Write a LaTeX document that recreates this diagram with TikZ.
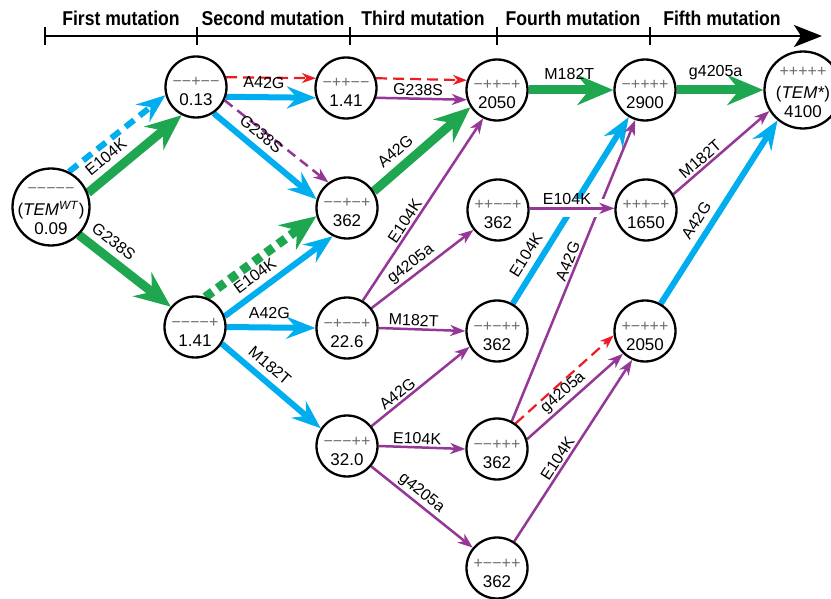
\documentclass[tikz,border=0pt]{standalone}
\usepackage{fontspec}
\setmainfont{Liberation Sans}
\usetikzlibrary{arrows.meta}
\definecolor{cgreen}{RGB}{30,166,80}
\definecolor{ccyan}{RGB}{0,174,239}
\definecolor{cpurple}{RGB}{148,55,150}
\definecolor{cred}{RGB}{237,28,36}
\definecolor{csign}{RGB}{110,110,110}
\pgfdeclarelayer{bg}
\pgfsetlayers{bg,main}
\newcommand\sgn[1]{\fontsize{16}{16}\selectfont\color{csign}#1}
\newcommand\nt[2]{\makebox[0pt]{\raisebox{0pt}[0pt][0pt]{\sgn{#1}}}\makebox[0pt]{\raisebox{-19pt}[0pt][0pt]{\fontsize{17}{17}\selectfont #2}}}
\newcommand\ntt[3]{\makebox[0pt]{\raisebox{13pt}[0pt][0pt]{\sgn{#1}}}\makebox[0pt]{\raisebox{-9pt}[0pt][0pt]{\fontsize{17}{17}\selectfont #2}}\makebox[0pt]{\raisebox{-28pt}[0pt][0pt]{\fontsize{17}{17}\selectfont #3}}}
\tikzset{
  st/.style={circle, draw, line width=2.3pt, minimum size=61pt, inner sep=0pt, fill=white},
  big/.style={st, minimum size=77pt},
  gr/.style={draw=cgreen, line width=9pt, -{Stealth[length=36pt,width=30pt,inset=12pt]}},
  grd/.style={gr, dash pattern=on 9pt off 6pt},
  cy/.style={draw=ccyan, line width=6pt, -{Stealth[length=29pt,width=22pt,inset=10pt]}},
  cyd/.style={cy, dash pattern=on 11pt off 7pt},
  pu/.style={draw=cpurple, line width=2.5pt, -{Stealth[length=15pt,width=11pt,inset=4.5pt]}},
  pud/.style={pu, dash pattern=on 10pt off 6pt},
  rd/.style={draw=cred, line width=2.2pt, dash pattern=on 11pt off 6pt, -{Stealth[length=14pt,width=10pt,inset=4.5pt]}},
  lab/.style={font=\fontsize{16}{16}\selectfont, sloped, above=1pt, inner sep=1pt},
  labt/.style={lab, above=4pt},
  hdr/.style={font=\fontsize{20}{20}\selectfont\bfseries, inner sep=0pt},
  tick/.style={line width=2.2pt},
}
\begin{document}
\begin{tikzpicture}[x=1pt,y=-1pt]
\useasboundingbox (0,0) rectangle (831,599);
% axis
\coordinate (ax0) at (45,36);
\coordinate (ax1) at (822,36);
\draw[line width=2.2pt, -{Stealth[length=28pt,width=22pt,inset=7pt]}] (ax0) -- (ax1);
\foreach \x/\n in {45/t1,197/t2,350/t3,497/t4,650/t5}{
  \coordinate (\n a) at (\x,27); \coordinate (\n b) at (\x,45);
  \draw[tick] (\n a) -- (\n b);}
\node[hdr] (h1) at (121,18) {\scalebox{0.88}[1]{First mutation}};
\node[hdr] (h2) at (273,18) {\scalebox{0.88}[1]{Second mutation}};
\node[hdr] (h3) at (423,18) {\scalebox{0.88}[1]{Third mutation}};
\node[hdr] (h4) at (573,18) {\scalebox{0.88}[1]{Fourth mutation}};
\node[hdr] (h5) at (722,18) {\scalebox{0.88}[1]{Fifth mutation}};
% nodes
\node[big] (WT) at (51,207) {\ntt{−−−−−}{(\textit{TEM}\textsuperscript{\textit{WT}})}{0.09}};
\node[st] (A) at (196,87) {\nt{−−+−−}{0.13}};
\node[st] (B) at (195,327) {\nt{−−−−+}{1.41}};
\node[st] (C) at (346,88) {\nt{−++−−}{1.41}};
\node[st] (D) at (347,208) {\nt{−−+−+}{362}};
\node[st] (E) at (347,328) {\nt{−+−−+}{22.6}};
\node[st] (F) at (347,446) {\nt{−−−++}{32.0}};
\node[st] (G) at (497,90) {\nt{−++−+}{2050}};
\node[st] (H) at (498,210) {\nt{++−−+}{362}};
\node[st] (I) at (497,331) {\nt{−+−++}{362}};
\node[st] (J) at (497,449) {\nt{−−+++}{362}};
\node[st] (K) at (497,568) {\nt{+−−++}{362}};
\node[st] (L) at (645,90) {\nt{−++++}{2900}};
\node[st] (M) at (646,210) {\nt{+++−+}{1650}};
\node[st] (N) at (645,331) {\nt{+−+++}{2050}};
\node[big] (T) at (803,90) {\ntt{+++++}{(\textit{TEM*})}{4100}};
% edges
\begin{pgfonlayer}{bg}
\draw[cyd] (WT.63) -- (A.195);
\draw[gr] (WT.21) -- (A.243) node[labt, pos=0.3]{E104K};
\draw[gr] (WT.-45) -- (B.140) node[labt, pos=0.27]{G238S};
\draw[rd] (A.18) -- (C.162);
\draw[cy] (A.-18) -- (C.198) node[labt, pos=0.42]{A42G};
\draw[pud] (A.-25) -- (D.126);
\draw[cy] (A.-56) -- (D.164) node[labt, pos=0.37]{G238S};
\draw[grd] (B.71) -- (D.195);
\draw[cy] (B.20) -- (D.243) node[labt, pos=0.36]{E104K};
\draw[cy] (B.0) -- (E.180) node[labt, pos=0.48]{A42G};
\draw[cy] (B.-32) -- (F.146) node[labt, pos=0.39]{M182T};
\draw[rd] (C.18) -- (G.162);
\draw[pu] (C.-18) -- (G.198) node[lab, pos=0.46]{G238S};
\draw[gr] (D.32) -- (G.213) node[labt, pos=0.33]{A42G};
\draw[pu] (E.60) -- (G.244) node[lab, pos=0.41]{E104K};
\draw[pu] (E.39) -- (H.219) node[lab, pos=0.45]{g4205a};
\draw[pu] (E.0) -- (I.180) node[lab, pos=0.4]{M182T};
\draw[pu] (F.39) -- (I.210) node[lab, pos=0.32]{A42G};
\draw[pu] (F.0) -- (J.180) node[lab, pos=0.44]{E104K};
\draw[pu] (F.-40) -- (K.140) node[lab, pos=0.43]{g4205a};
\draw[gr] (G.0) -- (L.180) node[labt, pos=0.48]{M182T};
\draw[cy] (I.60) -- (L.239) node[labt, pos=0.22]{E104K};
\draw[pu] (J.62) -- (L.252) node[lab, pos=0.52]{A42G};
\draw[pu, preaction={draw=white, line width=18pt, -, shorten <=4pt, shorten >=4pt}] (H.3) -- (M.177) node[lab, pos=0.44]{E104K};
\draw[rd] (J.54) -- (N.188);
\draw[pu] (J.18) -- (N.226) node[lab, pos=0.45]{g4205a};
\draw[pu] (K.57) -- (N.246) node[lab, pos=0.43]{E104K};
\draw[gr] (L.0) -- (T.180) node[labt, pos=0.45]{g4205a};
\draw[pu] (M.30) -- (T.212) node[lab, pos=0.34]{M182T};
\draw[cy] (N.60) -- (T.230) node[labt, pos=0.41]{A42G};
\end{pgfonlayer}
\end{tikzpicture}
\end{document}
